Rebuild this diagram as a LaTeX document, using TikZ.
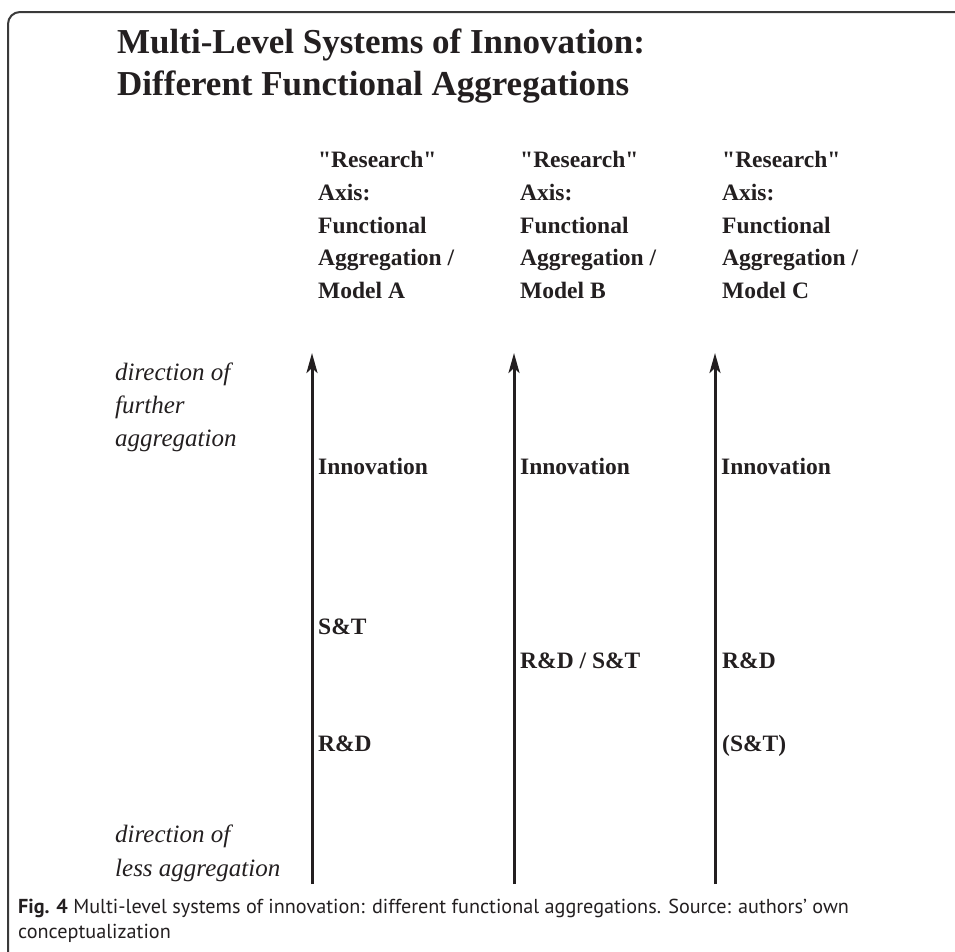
\documentclass[tikz,border=0pt]{standalone}
\usepackage{fontspec}
\setmainfont{Liberation Serif}[Ligatures=TeXOff]
\newfontfamily\capfont{PT Sans}
\usetikzlibrary{arrows.meta}
\definecolor{ink}{HTML}{231F20}
\definecolor{framec}{HTML}{3A3A3A}
\begin{document}
\begin{tikzpicture}[x=1pt,y=-1pt,
  ttl/.style={anchor=base west,inner sep=0pt,font=\fontsize{35}{40}\selectfont\bfseries,text=ink},
  head/.style={anchor=base west,inner sep=0pt,font=\fontsize{23.5}{28}\selectfont\bfseries,text=ink},
  dirt/.style={anchor=base west,inner sep=0pt,font=\fontsize{25}{28}\selectfont\itshape,text=ink},
  axisarrow/.style={line width=3pt,draw=ink,-{Stealth[length=20pt,width=11pt,inset=5pt]}},
  captxt/.style={anchor=base west,inner sep=0pt,font=\capfont\fontsize{20.2}{24}\selectfont,text=ink}
]
\useasboundingbox (0,0) rectangle (955,951);
\begin{scope}
\clip (0,0) rectangle (955,951);
\draw[line width=2pt,draw=framec,rounded corners=12pt] (8,980) -- (8,12) -- (990,12);
\end{scope}
% title
\node[ttl] (t1) at (117,53) {Multi-Level Systems of Innovation:};
\node[ttl] (t2) at (117,95) {Different Functional Aggregations};
% headers
\foreach \c/\x/\m in {a/318/A,b/520/B,c/722/C}{
  \node[head] (h1\c) at (\x,167) {"Research"};
  \node[head] (h2\c) at (\x,200) {Axis:};
  \node[head] (h3\c) at (\x,233) {Functional};
  \node[head] (h4\c) at (\x,265) {Aggregation /};
  \node[head] (h5\c) at (\x,298) {Model \m};
}
% axes
\foreach \c/\x in {a/312,b/514,c/715}{
  \coordinate (bot\c) at (\x,884);
  \coordinate (top\c) at (\x,353);
  \draw[axisarrow] (bot\c) -- (top\c);
  \node[head] (inn\c) at (\x+6,474) {Innovation};
}
% direction labels
\node[dirt] (d1) at (115,380) {direction of};
\node[dirt] (d2) at (115,413) {further};
\node[dirt] (d3) at (115,446) {aggregation};
\node[dirt] (d4) at (115,842) {direction of};
\node[dirt] (d5) at (115,876) {less aggregation};
% levels
\node[head] (sta) at (318,634) {S\&T};
\node[head] (rda) at (318,751) {R\&D};
\node[head] (rdb) at (520,668) {R\&D / S\&T};
\node[head] (rdc) at (722,668) {R\&D};
\node[head] (stc) at (722,751) {(S\&T)};
% caption
\node[captxt] (cap1) at (18,913) {{\bfseries Fig. 4} Multi-level systems of innovation: different functional aggregations. Source: authors’ own};
\node[captxt] (cap2) at (18,938) {conceptualization};
\end{tikzpicture}
\end{document}
